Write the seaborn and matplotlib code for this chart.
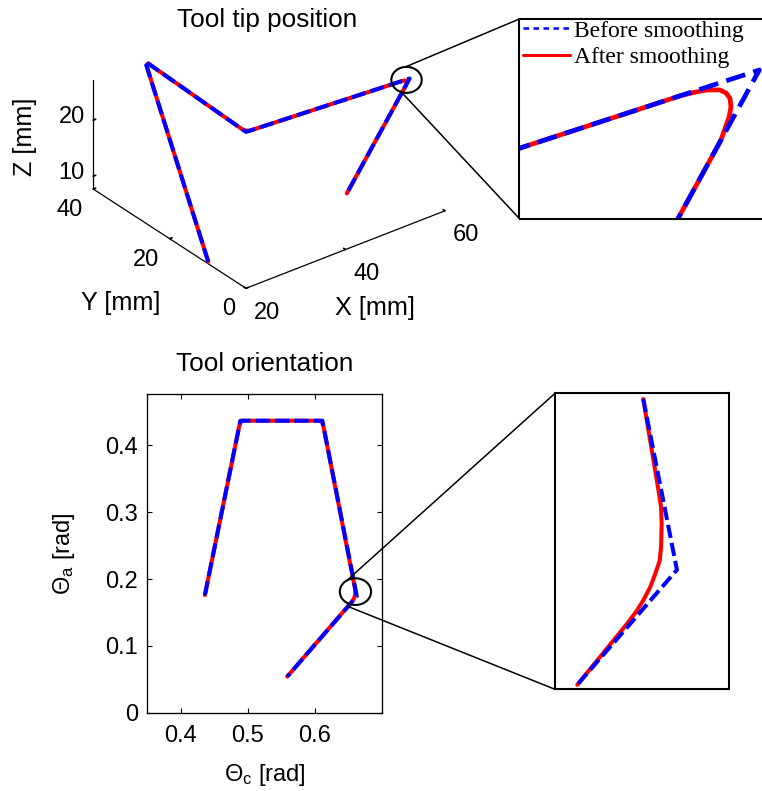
import numpy as np
import matplotlib
matplotlib.use("Agg")
import matplotlib.pyplot as plt
import seaborn as sns
from matplotlib.patches import Ellipse, Rectangle
from matplotlib.lines import Line2D
from matplotlib.transforms import IdentityTransform, Bbox

# ---------------- data ----------------
# tool tip path (mm), before smoothing (corner points)
tip_before_x = [20.4, 30.2, 50.24, 60.1, 51.0]
tip_before_y = [10.4, 39.7, 39.4, 9.4, 14.0]
tip_before_z = [7.7, 27.1, 7.7, 27.1, 7.7]
# tool tip path after smoothing (corners rounded)
tip_after_x = [20.4, 29.955, 30.343, 30.801, 49.639, 50.098, 50.487, 59.625, 59.694, 59.765,
               59.822, 59.831, 59.816, 59.773, 59.709, 59.638, 59.544, 51.0]
tip_after_y = [10.4, 38.968, 39.403, 39.691, 39.409, 39.104, 38.65, 10.846, 10.613, 10.353,
               10.078, 9.916, 9.795, 9.716, 9.682, 9.681, 9.681, 14.0]
tip_after_z = [7.7, 26.615, 26.673, 26.518, 8.282, 8.127, 8.185, 26.165, 26.299, 26.436,
               26.542, 26.552, 26.512, 26.413, 26.271, 26.118, 25.915, 7.7]

# tool orientation (rad)
ori_before_c = [0.436, 0.489, 0.6115, 0.663, 0.559]
ori_before_a = [0.176, 0.437, 0.437, 0.174, 0.054]
ori_after_c = [0.436, 0.4874, 0.4892, 0.493, 0.6075, 0.6108, 0.613, 0.6601, 0.6605, 0.6606,
               0.6605, 0.6603, 0.6596, 0.6588, 0.6577, 0.6567, 0.6553, 0.559]
ori_after_a = [0.176, 0.4292, 0.4348, 0.437, 0.437, 0.4352, 0.4292, 0.1865, 0.1839, 0.1812,
               0.1776, 0.1755, 0.1734, 0.1713, 0.1692, 0.1676, 0.1657, 0.054]
# zoomed portion around the third orientation corner
zoom_before_c = [0.6577, 0.663, 0.6473]
zoom_before_a = [0.2009, 0.174, 0.1559]
zoom_after_c = [0.6577, 0.6601, 0.6605, 0.6606, 0.6605, 0.6603, 0.6596, 0.6588, 0.6577,
                0.6567, 0.6553, 0.6473]
zoom_after_a = [0.2009, 0.1865, 0.1839, 0.1812, 0.1776, 0.1755, 0.1734, 0.1713, 0.1692,
                0.1676, 0.1657, 0.1559]

x_ticks_3d = [20, 40, 60]
y_ticks_3d = [0, 20, 40]
z_ticks_3d = [10, 20]
c_ticks = [0.4, 0.5, 0.6]
a_ticks = [0, 0.1, 0.2, 0.3, 0.4]
legend_labels = ["Before smoothing", "After smoothing"]

# ---------------- style ----------------
W, H = 762, 791
sns.set_theme(style="white")
plt.rcParams["font.family"] = ["Liberation Sans", "DejaVu Sans"]
plt.rcParams["mathtext.fontset"] = "custom"
plt.rcParams["mathtext.rm"] = "Liberation Sans"
plt.rcParams["mathtext.it"] = "Liberation Sans:italic"
plt.rcParams["mathtext.bf"] = "Liberation Sans:bold"
for k_ in ["xtick.color", "ytick.color", "axes.edgecolor", "text.color", "axes.labelcolor"]:
    plt.rcParams[k_] = "black"

TICK_FS = 17
LAB_FS = 18.2
TITLE_FS = 18.8
BLUE = (0, 0, 1)
RED = (1, 0, 0)
DASH = (0, (3.5, 1.3))

fig = plt.figure(figsize=(W / 100, H / 100), dpi=100)
fig.patch.set_facecolor("white")


def px(x, y):
    """top-left pixel -> display coords"""
    return x, H - y


def proj(ax, xs, ys, zs):
    xs, ys, zs = (np.atleast_1d(np.asarray(v, float)) for v in (xs, ys, zs))
    M = ax.get_proj()
    v = M @ np.vstack([xs, ys, zs, np.ones_like(xs)])
    return ax.transData.transform(np.column_stack([v[0] / v[3], v[1] / v[3]]))


ELEV, AZIM = 30.2, -127.75

# ---------------- 3D main ----------------
S = 560
ax3 = fig.add_axes([(269 - S / 2) / W, (H - 146.5 - S / 2) / H, S / W, S / H],
                   projection="3d", proj_type="ortho")
ax3.view_init(elev=ELEV, azim=AZIM)
ax3.set_xlim(20, 60)
ax3.set_ylim(0, 40)
ax3.set_zlim(7.7, 27.1)
box = np.array([40 * 6.29, 40 * 6.235, 19.4 * 6.48])
ax3.set_box_aspect(box)
ax3.set_facecolor("none")
ax3.grid(False)
ax3.set_xticks(x_ticks_3d)
ax3.set_yticks(y_ticks_3d)
ax3.set_zticks(z_ticks_3d)
ax3.set_xticklabels([])
ax3.set_yticklabels([])
ax3.set_zticklabels([])
for axis in (ax3.xaxis, ax3.yaxis, ax3.zaxis):
    axis.set_pane_color((1, 1, 1, 0))
    axis.pane.set_edgecolor((1, 1, 1, 0))
    axis.line.set_color("black")
    axis.line.set_linewidth(0.9)
    axis._axinfo["tick"]["inward_factor"] = 0.0
    axis._axinfo["tick"]["outward_factor"] = 0.15

ax3.plot(tip_after_x, tip_after_y, tip_after_z, color=RED, lw=2.9)
ax3.plot(tip_before_x, tip_before_y, tip_before_z, color=BLUE, lw=2.9, linestyle=DASH)

zlo = ax3.get_zlim()[0]
fig.canvas.draw()
p = proj(ax3, [20, 60], [0, 0], [zlo, zlo])
cur = np.hypot(*(p[1] - p[0]))
zoom_main = np.hypot(199, 77.6) / cur
ax3.set_box_aspect(box, zoom=zoom_main)
fig.canvas.draw()
p0 = proj(ax3, 20, 0, zlo)[0]
tx, ty = px(246, 288.3)
pos = ax3.get_position(original=True)
ax3.set_position([pos.x0 + (tx - p0[0]) / W, pos.y0 + (ty - p0[1]) / H, pos.width, pos.height])
fig.canvas.draw()

# tick labels of the 3D axes
EM_BASE = 8.4
for (dx, dy), t in zip(proj(ax3, x_ticks_3d, [0] * 3, [zlo] * 3), x_ticks_3d):
    fig.text((dx + 8) / W, (dy - 22 - EM_BASE) / H, f"{t}", ha="left", va="baseline",
             fontsize=TICK_FS)
for (dx, dy), t in zip(proj(ax3, [20] * 3, y_ticks_3d, [zlo] * 3), y_ticks_3d):
    fig.text((dx - 10.3) / W, (dy - 18.5 - EM_BASE) / H, f"{t}", ha="right", va="baseline",
             fontsize=TICK_FS)
for (dx, dy), t in zip(proj(ax3, [20] * 2, [40] * 2, z_ticks_3d), z_ticks_3d):
    fig.text((dx - 8.5) / W, (dy + 5.5 - EM_BASE) / H, f"{t}", ha="right", va="baseline",
             fontsize=TICK_FS)

fig.text(375 / W, 1 - 308.3 / H, "X [mm]", ha="center", va="center", fontsize=LAB_FS)
fig.text(120.7 / W, 1 - 303.3 / H, "Y [mm]", ha="center", va="center", fontsize=LAB_FS)
fig.text(25 / W, 1 - 136.7 / H, "Z [mm]", ha="center", va="center", rotation=90,
         fontsize=LAB_FS)
fig.text(267.5 / W, 1 - 26.5 / H, "Tool tip position", ha="center", va="baseline",
         fontsize=TITLE_FS)

# ---------------- 3D zoom inset ----------------
KZ = 10.0
D = np.array([tip_before_x[3], tip_before_y[3], tip_before_z[3]])
spans = np.array([40, 40, 19.4]) / KZ
axi = fig.add_axes([519.3 / W, 1 - 218.5 / H, 200 / W, 199.5 / H],
                   projection="3d", proj_type="ortho")
axi.view_init(elev=ELEV, azim=AZIM)
axi.set_xlim(D[0] - spans[0] / 2, D[0] + spans[0] / 2)
axi.set_ylim(D[1] - spans[1] / 2, D[1] + spans[1] / 2)
axi.set_zlim(D[2] - spans[2] / 2, D[2] + spans[2] / 2)
axi.set_box_aspect(box)
axi.set_axis_off()
axi.set_facecolor("none")
l1, = axi.plot(tip_after_x, tip_after_y, tip_after_z, color=RED, lw=3.4)
l2, = axi.plot(tip_before_x, tip_before_y, tip_before_z, color=BLUE, lw=3.4,
               linestyle=(0, (4.2, 1.8)))
fig.canvas.draw()
pm = proj(ax3, [D[0], D[0] + 1], [D[1]] * 2, [D[2]] * 2)
pi = proj(axi, [D[0], D[0] + 1], [D[1]] * 2, [D[2]] * 2)
sm = np.hypot(*(pm[1] - pm[0]))
si = np.hypot(*(pi[1] - pi[0]))
axi.set_box_aspect(box, zoom=KZ * sm / si)
fig.canvas.draw()
pD = proj(axi, *D)[0]
tx, ty = px(759.3, 70)
pos = axi.get_position(original=True)
axi.set_position([pos.x0 + (tx - pD[0]) / W, pos.y0 + (ty - pD[1]) / H, pos.width, pos.height])
clip = Bbox.from_extents(519.3, H - 218.5, 820, H - 19)
for ln in (l1, l2):
    ln.set_clip_path(None)
    ln.set_clip_box(clip)

fig.add_artist(Rectangle(px(519.3, 218.5), 320, 199.5, transform=IdentityTransform(),
                         fill=False, ec="black", lw=1.5))

h1 = Line2D([], [], color=BLUE, lw=1.8, linestyle=(0, (2.2, 1.8)))
h2 = Line2D([], [], color=RED, lw=2.2)
fig.legend([h1, h2], legend_labels, loc="upper left", bbox_to_anchor=(523 / W, 1 - 20 / H),
           frameon=False, borderaxespad=0, borderpad=0, handlelength=2.0,
           handletextpad=0.15, labelspacing=0.2,
           prop={"family": "Liberation Serif", "size": 17})

# zoom marker on the 3D plot
pDm = proj(ax3, *D)[0]
ct = pDm + np.array([-3.1, -1.3])
fig.add_artist(Ellipse(ct, 30.4, 26, transform=IdentityTransform(), fill=False,
                       ec="black", lw=1.5))
fig.add_artist(Line2D([ct[0] - 1, 519.3], [ct[1] + 13, H - 19], transform=IdentityTransform(),
                      color="black", lw=1.1))
fig.add_artist(Line2D([ct[0] - 5.9, 519.3], [ct[1] - 11.4, H - 218.5],
                      transform=IdentityTransform(), color="black", lw=1.1))

# ---------------- orientation plot ----------------
axb = fig.add_axes([147.3 / W, 1 - 712.7 / H, 234.3 / W, 318.7 / H])
sns.lineplot(x=ori_after_c, y=ori_after_a, sort=False, estimator=None, color=RED, lw=2.9, ax=axb)
sns.lineplot(x=ori_before_c, y=ori_before_a, sort=False, estimator=None, color=BLUE, lw=2.9,
             ax=axb)
axb.lines[-1].set_linestyle(DASH)
axb.set_xlim(0.35, 0.70)
axb.set_ylim(0, 0.477)
axb.set_xticks(c_ticks)
axb.set_yticks(a_ticks)
axb.set_xticklabels([f"{t:g}" for t in c_ticks])
axb.set_yticklabels([f"{t:g}" for t in a_ticks])
axb.tick_params(direction="in", length=3.5, width=0.8, top=True, right=True, bottom=True,
                left=True, labelsize=TICK_FS, colors="black")
axb.tick_params(axis="x", pad=8.5)
axb.tick_params(axis="y", pad=6.8)
for s in axb.spines.values():
    s.set_linewidth(0.95)
    s.set_color("black")
axb.set_xlabel(r"$\Theta_\mathrm{c}$ [rad]", fontsize=TICK_FS, labelpad=11)
axb.set_ylabel(r"$\Theta_\mathrm{a}$ [rad]", fontsize=TICK_FS, labelpad=20)
axb.set_title("Tool orientation", fontsize=TITLE_FS, pad=16.8)

# zoom inset for orientation
axz = fig.add_axes([555 / W, 1 - 689.3 / H, 174 / W, 296 / H])
sns.lineplot(x=zoom_after_c, y=zoom_after_a, sort=False, estimator=None, color=RED, lw=2.9,
             ax=axz)
sns.lineplot(x=zoom_before_c, y=zoom_before_a, sort=False, estimator=None, color=BLUE, lw=2.9,
             ax=axz)
axz.lines[-1].set_linestyle((0, (3.3, 1.25)))
axz.set_xlim(0.6438, 0.6712)
axz.set_ylim(0.1552, 0.2018)
axz.set_xticks([])
axz.set_yticks([])
axz.set_xlabel("")
axz.set_ylabel("")
for s in axz.spines.values():
    s.set_linewidth(1.5)
    s.set_color("black")

fig.canvas.draw()
pc = axb.transData.transform((ori_before_c[3], ori_before_a[3]))
cb = pc + np.array([-1.4, 4.8])
fig.add_artist(Ellipse(cb, 31.3, 26.7, transform=IdentityTransform(), fill=False,
                       ec="black", lw=1.5))
fig.add_artist(Line2D([cb[0] - 8, 555], [cb[1] + 11.7, H - 393.3], transform=IdentityTransform(),
                      color="black", lw=1.1))
fig.add_artist(Line2D([cb[0] - 7, 555], [cb[1] - 15, H - 689.3], transform=IdentityTransform(),
                      color="black", lw=1.1))

fig.savefig("out.png", dpi=100, facecolor="white")
